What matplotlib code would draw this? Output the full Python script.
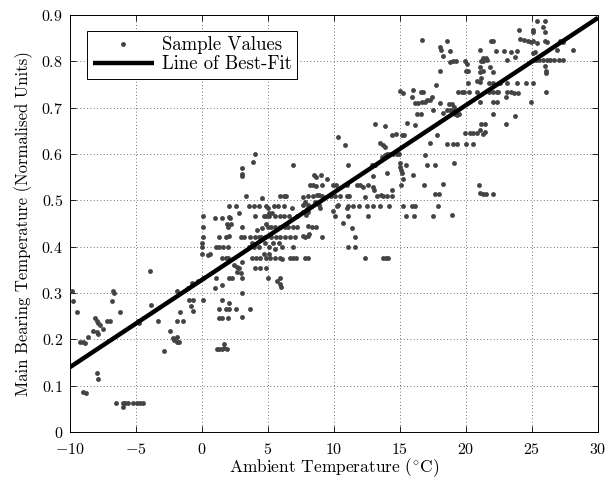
import matplotlib
matplotlib.use("Agg")
import matplotlib.pyplot as plt
from matplotlib.ticker import FuncFormatter, MultipleLocator
import numpy as np

# LaTeX-like look
plt.rcParams['font.family'] = 'serif'
plt.rcParams['font.serif'] = ['cmr10', 'DejaVu Serif']
plt.rcParams['mathtext.fontset'] = 'cm'
plt.rcParams['axes.unicode_minus'] = False

# Sample values (ambient temp, normalised bearing temp)
amb_cold = [-9.87, -9.8, -9.45, -3.94, -6.72, -6.64, -6.8, -6.2, -3.89, -1.92,
            -4.83, -4.75, -8.1, -7.98, -7.86, -7.73, -7.22, -6.97, -7.47, -8.23,
            -7.98, -7.86, -8.6, -9.24, -9.04, -8.86, -3.36, -2.42, -2.88, -1.92,
            -1.42, -2.22, -2.1, -1.87, -1.72, -1.87, -1.67,
            -7.98, -7.86, -8.99, -8.81,
            -6.52, -5.96, -5.83, -5.58, -5.2, -4.95, -4.7, -4.49, -5.96]
bear_cold = [0.304, 0.283, 0.26, 0.348, 0.304, 0.30, 0.283, 0.26, 0.274, 0.304,
             0.24, 0.236, 0.245, 0.24, 0.236, 0.232, 0.24, 0.24, 0.223, 0.218,
             0.216, 0.212, 0.205, 0.195, 0.195, 0.193, 0.24, 0.218, 0.175, 0.24,
             0.24, 0.202, 0.198, 0.195, 0.195, 0.205, 0.259,
             0.128, 0.114, 0.087, 0.085,
             0.062, 0.062, 0.062, 0.062, 0.062, 0.062, 0.062, 0.062, 0.055]

amb_mild = [4.0, 3.85, 3.0, 3.0, 3.05, 6.93, 3.3, 4.55,
            2.05, 2.55, 3.55, 3.93, 4.3, 4.85, 5.0, 5.43, 5.75, 6.18, 6.8, 5.93, 6.18, 6.35,
            0.1, 1.0, 1.55, 2.05, 2.1, 4.0, 4.68, 4.85, 5.1, 5.5, 5.93, 6.18, 6.6, 7.18, 5.05, 5.3,
            1.93, 2.18, 2.0, 2.8, 3.05,
            4.85, 5.0, 5.25, 5.55, 5.93, 6.25, 6.55, 6.93, 7.18, 0.1, 4.18, 4.55,
            0.05, 1.3, 1.8, 2.05, 2.93, 3.18, 3.6, 4.05, 4.3, 4.5, 4.8, 5.25, 5.6, 5.93, 6.3,
            6.68, 7.05,
            0.0, 0.0, 3.75, 4.8, 5.35, 5.8,
            1.05, 1.3, 1.6, 2.0, 3.55, 3.93, 4.3, 5.05, 5.55, 6.05, 6.93,
            0.0, 0.43, 0.63, 4.68, 5.05,
            1.5, 1.8, 2.0, 3.8, 4.1, 4.43, 4.85, 5.18, 5.55, 5.93, 6.05, 6.68, 6.93, 7.1,
            2.43, 2.68, 2.8, 3.05, 4.05, 4.43, 4.85, 2.93, 2.68,
            2.05, 2.3, 1.05, 3.0, 5.0, 5.68, 5.93, 5.93, 6.0,
            0.05, -0.33, -0.75, -1.08, 1.0, 1.5, 3.05,
            -0.95, -0.65, 0.05, -0.83, -0.65, 1.55, 2.05,
            1.3, 1.8, 2.05, 2.55, 3.6,
            1.25, 1.5, 2.0, 3.0,
            1.11, 1.31, 1.49, 1.67, 1.87, 1.67]
bear_mild = [0.601, 0.582, 0.57, 0.556, 0.552, 0.577, 0.51, 0.506,
             0.488, 0.488, 0.488, 0.488, 0.488, 0.488, 0.484, 0.488, 0.488, 0.488, 0.484, 0.51, 0.51, 0.51,
             0.466, 0.462, 0.462, 0.464, 0.462, 0.466, 0.466, 0.466, 0.466, 0.466, 0.466, 0.466, 0.466, 0.466, 0.472, 0.472,
             0.45, 0.448, 0.443, 0.473, 0.443,
             0.448, 0.443, 0.443, 0.443, 0.443, 0.443, 0.443, 0.443, 0.443, 0.443, 0.436, 0.44,
             0.421, 0.421, 0.421, 0.423, 0.421, 0.421, 0.421, 0.421, 0.421, 0.421, 0.421, 0.421, 0.421, 0.421, 0.421,
             0.421, 0.421,
             0.407, 0.4, 0.409, 0.409, 0.409, 0.407,
             0.4, 0.4, 0.4, 0.4, 0.4, 0.4, 0.4, 0.4, 0.396, 0.4, 0.4,
             0.385, 0.382, 0.385, 0.385, 0.385,
             0.375, 0.375, 0.375, 0.375, 0.375, 0.375, 0.375, 0.375, 0.375, 0.375, 0.374, 0.375, 0.375, 0.375,
             0.36, 0.356, 0.353, 0.367, 0.354, 0.354, 0.354, 0.344, 0.346,
             0.333, 0.333, 0.333, 0.333, 0.333, 0.327, 0.333, 0.32, 0.313,
             0.333, 0.327, 0.322, 0.31, 0.311, 0.317, 0.299,
             0.285, 0.285, 0.285, 0.272, 0.262, 0.285, 0.279,
             0.265, 0.265, 0.265, 0.265, 0.265,
             0.245, 0.245, 0.245, 0.248,
             0.18, 0.18, 0.18, 0.181, 0.18, 0.189]

amb_warm = [13.1, 13.86, 15.56, 16.1,
            14.37, 14.7, 15.13, 15.3,
            10.33, 10.83,
            13.48, 13.7, 13.86,
            17.27, 17.78,
            13.61, 13.86, 14.04, 14.24, 14.5, 14.75, 14.95,
            15.0, 15.0, 15.05, 15.13, 15.2, 15.45,
            16.89, 17.02, 17.65,
            11.09, 12.85, 13.1, 12.93, 13.99,
            16.01, 16.82,
            8.48, 8.64, 8.99, 9.49,
            8.18, 8.38, 8.64, 9.06,
            9.95, 10.15, 11.01, 11.72, 11.97, 12.17, 12.6, 12.98, 13.03,
            14.37, 15.05,
            7.68, 8.05, 8.43, 8.69, 8.89, 9.06, 9.19,
            9.8, 10.05, 10.45, 10.96, 11.16,
            12.35, 13.28, 13.54, 13.74, 14.04, 14.37,
            17.65, 17.98,
            7.8, 7.63, 8.05, 8.56, 8.89, 8.94,
            10.33, 10.2, 11.09, 11.01, 11.46, 11.92, 12.47, 12.93, 13.48, 14.19,
            15.25, 15.88, 16.14, 17.9,
            7.98, 8.05, 7.88, 7.68,
            9.9, 10.08,
            11.09, 10.71, 11.34, 11.59,
            12.6, 15.45, 16.06, 17.53,
            8.05, 8.31, 8.64,
            7.63, 7.8, 8.05, 8.13,
            9.06,
            11.09, 11.59,
            7.8, 8.05,
            12.35, 13.74, 13.94, 14.12]
bear_warm = [0.664, 0.661, 0.666, 0.662,
             0.642, 0.644, 0.642, 0.642,
             0.637, 0.62,
             0.623, 0.619, 0.615,
             0.623, 0.64,
             0.594, 0.598, 0.601, 0.601, 0.601, 0.601, 0.601,
             0.58, 0.572, 0.565, 0.558, 0.547, 0.577,
             0.598, 0.577, 0.577,
             0.577, 0.577, 0.577, 0.553, 0.558,
             0.554, 0.533,
             0.554, 0.551, 0.554, 0.547,
             0.534, 0.533, 0.531, 0.533,
             0.533, 0.533, 0.533, 0.533, 0.533, 0.529, 0.533, 0.529, 0.522,
             0.522, 0.533,
             0.508, 0.51, 0.51, 0.511, 0.512, 0.51, 0.505,
             0.51, 0.51, 0.51, 0.51, 0.51,
             0.508, 0.51, 0.511, 0.51, 0.51, 0.51,
             0.513, 0.513,
             0.497, 0.491, 0.491, 0.497, 0.491, 0.484,
             0.491, 0.488, 0.488, 0.484, 0.488, 0.488, 0.488, 0.488, 0.488, 0.488,
             0.488, 0.488, 0.488, 0.488,
             0.481, 0.474, 0.468, 0.474,
             0.477, 0.467,
             0.467, 0.452, 0.44, 0.421,
             0.467, 0.467, 0.467, 0.467,
             0.445, 0.443, 0.443,
             0.423, 0.421, 0.423, 0.428,
             0.421,
             0.4, 0.4,
             0.376, 0.376,
             0.376, 0.376, 0.376, 0.376]

amb_hot = [25.35, 25.98, 25.1, 25.05, 25.85, 25.98, 25.98, 26.1,
           24.04, 24.09, 24.39, 24.72, 24.9, 25.1, 25.35,
           27.12, 27.37, 28.13,
           25.1, 25.23, 26.87,
           25.05, 25.3, 25.56, 25.86, 26.11, 26.36, 26.67, 27.07, 27.37,
           25.98, 26.06, 26.06,
           26.06, 24.9,
           21.87, 22.02,
           22.27, 22.88, 23.38, 23.84,
           23.13, 23.71,
           21.06, 21.26, 21.52, 21.62, 21.31, 21.11,
           21.06, 21.06, 21.11, 21.26,
           21.82, 22.02,
           19.92, 20.05, 20.18, 20.0, 20.18,
           18.79, 19.04, 19.24,
           18.54, 18.79,
           18.03, 18.08, 18.23,
           16.68, 18.03, 17.73,
           20.81, 21.06, 21.77, 22.02,
           22.58, 23.08, 23.89, 24.54, 25.05,
           23.08, 23.03, 23.38, 23.64, 23.96,
           21.77, 22.07, 22.32, 22.45,
           19.42, 19.67, 19.85, 20.26, 20.86,
           21.06, 22.07, 22.32,
           22.02, 23.03, 23.71,
           21.11, 21.44, 21.06,
           21.44, 21.26,
           19.92, 20.3, 20.5, 20.86,
           20.0, 20.55,
           18.54, 19.04, 19.3,
           18.23, 18.54, 18.79, 18.99, 19.17, 19.34, 19.5, 18.92, 18.74, 19.09,
           18.03,
           15.88, 16.14, 16.39, 16.64, 16.89, 17.07, 17.27, 17.4, 16.77, 16.56, 15.96,
           16.26, 16.56, 17.52,
           15.2, 15.0,
           19.09, 18.23, 18.9,
           21.0, 21.06, 21.26, 21.52, 22.07]
bear_hot = [0.888, 0.888, 0.867, 0.863, 0.875, 0.863, 0.844, 0.842,
            0.867, 0.849, 0.847, 0.844, 0.842, 0.844, 0.839,
            0.844, 0.842, 0.825,
            0.818, 0.82, 0.824,
            0.802, 0.802, 0.802, 0.802, 0.802, 0.802, 0.802, 0.802, 0.802,
            0.791, 0.78, 0.775,
            0.734, 0.712,
            0.844, 0.844,
            0.822, 0.822, 0.82, 0.822,
            0.802, 0.809,
            0.824, 0.808, 0.808, 0.802, 0.8, 0.8,
            0.788, 0.777, 0.765, 0.78,
            0.788, 0.777,
            0.8, 0.795, 0.779, 0.779, 0.753,
            0.798, 0.8, 0.8,
            0.844, 0.822,
            0.832, 0.824, 0.811,
            0.845, 0.779, 0.748,
            0.757, 0.755, 0.754, 0.753,
            0.754, 0.754, 0.754, 0.754, 0.754,
            0.734, 0.723, 0.734, 0.732, 0.732,
            0.734, 0.734, 0.734, 0.734,
            0.734, 0.734, 0.734, 0.734, 0.734,
            0.712, 0.712, 0.712,
            0.687, 0.665, 0.681,
            0.664, 0.665, 0.651,
            0.647, 0.644,
            0.645, 0.645, 0.645, 0.645,
            0.622, 0.622,
            0.622, 0.622, 0.622,
            0.688, 0.694, 0.694, 0.695, 0.687, 0.685, 0.687, 0.708, 0.708, 0.701,
            0.71,
            0.723, 0.71, 0.71, 0.712, 0.712, 0.716, 0.717, 0.723, 0.734, 0.734, 0.739,
            0.687, 0.687, 0.694,
            0.731, 0.735,
            0.58, 0.536, 0.469,
            0.534, 0.515, 0.513, 0.513, 0.513]

# best-fit line end points
fit_x = [-10, 30]
fit_y = [0.14, 0.894]

ambient = np.array(amb_cold + amb_mild + amb_warm + amb_hot)
bearing = np.array(bear_cold + bear_mild + bear_warm + bear_hot)

fig = plt.figure(figsize=(6.14, 4.78), dpi=100)
ax = fig.add_axes([0.114, 0.0962, 0.86, 0.8724])

ax.plot(ambient, bearing, 'o', color='#444444', markersize=3.5,
        markeredgewidth=0, label='Sample Values', zorder=3)
ax.plot(fit_x, fit_y, color='k', linewidth=3.2, label='Line of Best-Fit',
        zorder=4, solid_capstyle='butt')

ax.set_xlim(-10, 30)
ax.set_ylim(0, 0.9)
ax.xaxis.set_major_locator(MultipleLocator(5))
ax.yaxis.set_major_locator(MultipleLocator(0.1))
fmt = FuncFormatter(lambda v, p: '$%g$' % round(v, 2))
ax.xaxis.set_major_formatter(fmt)
ax.yaxis.set_major_formatter(fmt)

ax.grid(True, color='0.25', linestyle=(0, (1, 3)), linewidth=0.6)
ax.tick_params(direction='in', length=4, width=0.6, top=True, right=True,
               labelsize=11.5)
ax.tick_params(axis='x', pad=7)
ax.tick_params(axis='y', pad=5)
for s in ax.spines.values():
    s.set_linewidth(0.7)

ax.set_xlabel(r'Ambient Temperature ($^{\circ}$C)', fontsize=12.5, labelpad=0)
ax.set_ylabel('Main Bearing Temperature (Normalised Units)', fontsize=12, labelpad=6)

leg = ax.legend(loc='upper left', bbox_to_anchor=(0.032, 0.962), borderaxespad=0,
                fontsize=13.5, fancybox=False, edgecolor='k', framealpha=1,
                handlelength=3.3, handletextpad=0.4, borderpad=0.3,
                labelspacing=0.05, markerscale=1.0)
leg.get_frame().set_linewidth(0.7)

fig.savefig('out.png', dpi=100)
